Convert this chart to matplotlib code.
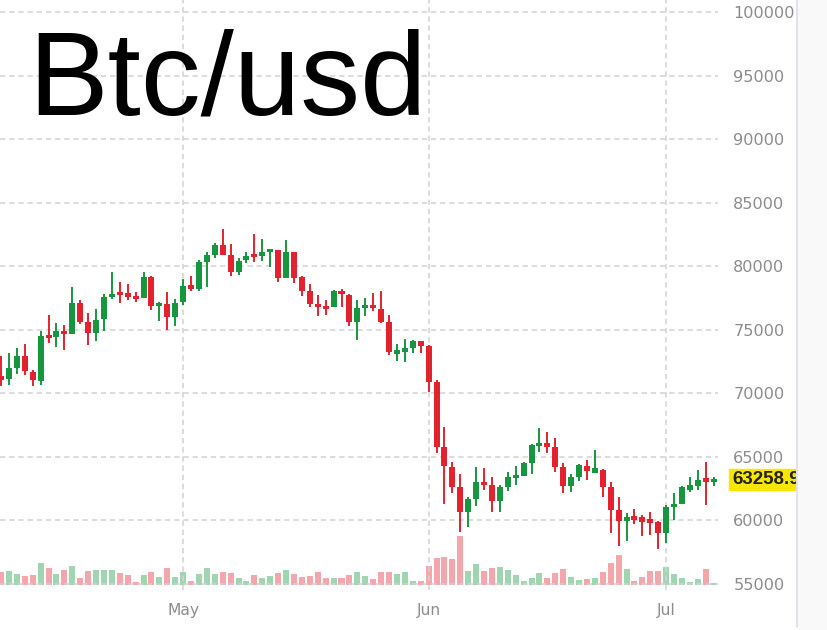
import matplotlib.pyplot as plt
from matplotlib.patches import Rectangle
from matplotlib.lines import Line2D

# daily candles, Apr 8 .. Jul 7 (index 0 = Apr 8)
opens = [71340, 71100, 71970, 72920, 71660, 70950, 74580, 74420, 74890, 74660,
         77100, 75600, 74740, 75840, 77580, 77970, 77890, 77660, 77500, 79160,
         76870, 77030, 76000, 77180, 78530, 78210, 80340, 80890, 81680, 80890,
         79550, 80500, 80970, 80820, 81130, 81290, 79080, 81130, 79160, 78050,
         77030, 76870, 76790, 78050, 77740, 75600, 76710, 76950, 76630, 75600,
         73080, 73240, 73550, 74100, 73710, 70870, 65810, 64240, 62660, 60680,
         61710, 63050, 62810, 61550, 62660, 63370, 63530, 64550, 65890, 66130,
         65810, 64240, 62740, 63450, 64310, 63760, 64000, 62660, 60840, 59970,
         60370, 60290, 60130, 59890, 59030, 61080, 61310, 62420, 62740, 63370,
         63050]
highs = [72920, 73160, 73550, 73870, 71820, 74890, 76160, 75530, 75370, 78370,
         77340, 76320, 76630, 77820, 79550, 78760, 78600, 77970, 79550, 79240,
         77180, 77970, 77420, 79000, 79240, 80500, 81130, 81840, 82950, 81760,
         80660, 81130, 82550, 82160, 81370, 81290, 82080, 81130, 79240, 78600,
         77740, 77340, 78130, 78210, 77820, 77340, 77500, 77890, 78050, 76160,
         73870, 74260, 74180, 74100, 73790, 71030, 67390, 64630, 63680, 61870,
         64240, 64160, 63450, 62810, 63840, 64310, 64630, 66050, 67310, 66920,
         66450, 64550, 63680, 64470, 64790, 65580, 64080, 63050, 61870, 60600,
         60920, 60450, 60680, 59970, 61240, 62180, 62740, 63450, 64000, 64630,
         63450]
lows = [70550, 70630, 71500, 71420, 70550, 70630, 73950, 73630, 73390, 74660,
        75450, 73790, 74100, 74890, 77420, 77100, 77340, 77180, 77500, 76550,
        75680, 74970, 75290, 76950, 78050, 78050, 78370, 80660, 80890, 79240,
        79320, 80260, 80340, 80420, 79950, 78760, 79080, 78680, 77660, 76790,
        76080, 76160, 76790, 76790, 75290, 74180, 76080, 76470, 75530, 73000,
        72530, 72450, 73160, 73160, 70080, 65340, 61310, 62180, 59100, 59500,
        61160, 62420, 60680, 60680, 62340, 62810, 63530, 63680, 65420, 65340,
        63840, 62180, 62260, 63130, 63210, 63760, 61870, 59030, 58000, 58390,
        59740, 58790, 58870, 57760, 58240, 60050, 61310, 62260, 62420, 61240,
        62740]
closes = [71030, 71970, 72920, 71740, 71030, 74500, 74340, 74890, 74660, 77100,
          75600, 74740, 75760, 77580, 77820, 77740, 77580, 77420, 79160, 76870,
          77100, 76000, 77100, 78450, 78210, 80340, 80890, 81680, 80890, 79550,
          80420, 80820, 80740, 81130, 81370, 79080, 81130, 79080, 78050, 77030,
          76790, 76630, 78050, 77820, 75600, 76710, 76950, 76710, 75600, 73240,
          73390, 73550, 74100, 73710, 70870, 65810, 64310, 62660, 60680, 61710,
          63050, 62810, 61550, 62660, 63450, 63600, 64550, 65970, 66130, 65810,
          64240, 62740, 63450, 64390, 63920, 64160, 62660, 60840, 59970, 60290,
          60050, 59890, 59810, 59030, 61080, 61310, 62660, 62810, 63210, 63050,
          63258.9]
volumes = [12.7, 14, 10.7, 9.3, 10, 21.7, 17, 11.3, 15.3, 19.3,
           7.3, 14.3, 15.3, 15.3, 15.3, 11.7, 10, 3, 10, 13.3,
           8.3, 17.3, 8.3, 12.7, 3.7, 11.3, 17.3, 10.7, 12.7, 11.7,
           6.7, 3.7, 10, 6.7, 8.7, 11.7, 14.7, 11, 8, 8.7,
           12.7, 7, 7, 7.3, 10, 12.7, 8.7, 6, 13, 12.7,
           11, 13.3, 4.3, 4.3, 19, 26.7, 28.3, 25.7, 49, 14.3,
           20.7, 14.3, 16.7, 17.7, 15, 10, 4.3, 7.3, 11.7, 6.7,
           11.7, 15.7, 7.7, 5, 6, 7.3, 12.7, 21.7, 30, 15.7,
           4.3, 7.7, 14.3, 14.3, 18.3, 11, 6.7, 3.3, 5.7, 15.7,
           1.7]
month_pos = [23, 54, 84]
month_labels = ['May', 'Jun', 'Jul']
price_ticks = [55000, 60000, 65000, 70000, 75000, 80000, 85000, 90000, 95000, 100000]
last_price = '63258.9'

UP = '#16973f'
DOWN = '#e3222f'

W, H = 828, 630
fig = plt.figure(figsize=(W / 100, H / 100), dpi=100)

ax = fig.add_axes([0, 40 / H, 718 / W, 590 / H])
vax = fig.add_axes([0, 45 / H, 718 / W, 100 / H], sharex=ax)
vax.set_zorder(0)
ax.set_zorder(1)
ax.patch.set_visible(False)

days = list(range(len(opens)))
for i in days:
    o, h, l, c = opens[i], highs[i], lows[i], closes[i]
    col = UP if c >= o else DOWN
    ax.vlines(i, l, h, color=col, linewidth=1.4, zorder=3)
    lo, hi = min(o, c), max(o, c)
    if hi - lo < 170:
        mid = (hi + lo) / 2
        lo, hi = mid - 85, mid + 85
    ax.bar(i, hi - lo, bottom=lo, width=0.76, color=col, linewidth=0, zorder=4)
    vax.bar(i, volumes[i], width=0.76, color=col, alpha=0.4, linewidth=0)

vax.set_ylim(0, 100)
vax.axis('off')

ax.set_xlim(-0.13, 90.55)
ax.set_ylim(54527, 100944)
ax.set_yticks(price_ticks)
ax.set_yticklabels([str(v) for v in price_ticks])
ax.yaxis.tick_right()
ax.tick_params(axis='y', length=0, pad=11, labelsize=11.6, labelcolor='#8c8c8c')
ax.set_xticks(month_pos)
ax.set_xticklabels(month_labels)
ax.tick_params(axis='x', length=0, pad=9, labelsize=11.2, labelcolor='#8c8c8c')
ax.grid(True, color='#d2d2d2', linestyle=(0, (3.5, 2.5)), linewidth=1.1, zorder=0)
for s in ax.spines.values():
    s.set_visible(False)

# last price tag
fig.patches.append(Rectangle((729 / W, 1 - 490 / H), 80 / W, 21 / H,
                             transform=fig.transFigure, color='#f7e600', zorder=5))
fig.text(732 / W, 1 - 480 / H, last_price, fontsize=13.5, fontweight='bold',
         family='Liberation Sans', color='#222222', va='center', zorder=6)

# right card edge
fig.patches.append(Rectangle((797 / W, 0), 31 / W, 1, transform=fig.transFigure,
                             color='#f9f9fa', zorder=10))
fig.lines.append(Line2D([797 / W, 797 / W], [4 / H, 1], transform=fig.transFigure,
                        color='#e2e2e8', linewidth=1.5, zorder=11))

fig.text(28 / W, 1 - 115 / H, 'Btc/usd', fontsize=86, family='Liberation Sans',
         color='black', va='baseline', zorder=12)

fig.savefig('out.png', dpi=100)
